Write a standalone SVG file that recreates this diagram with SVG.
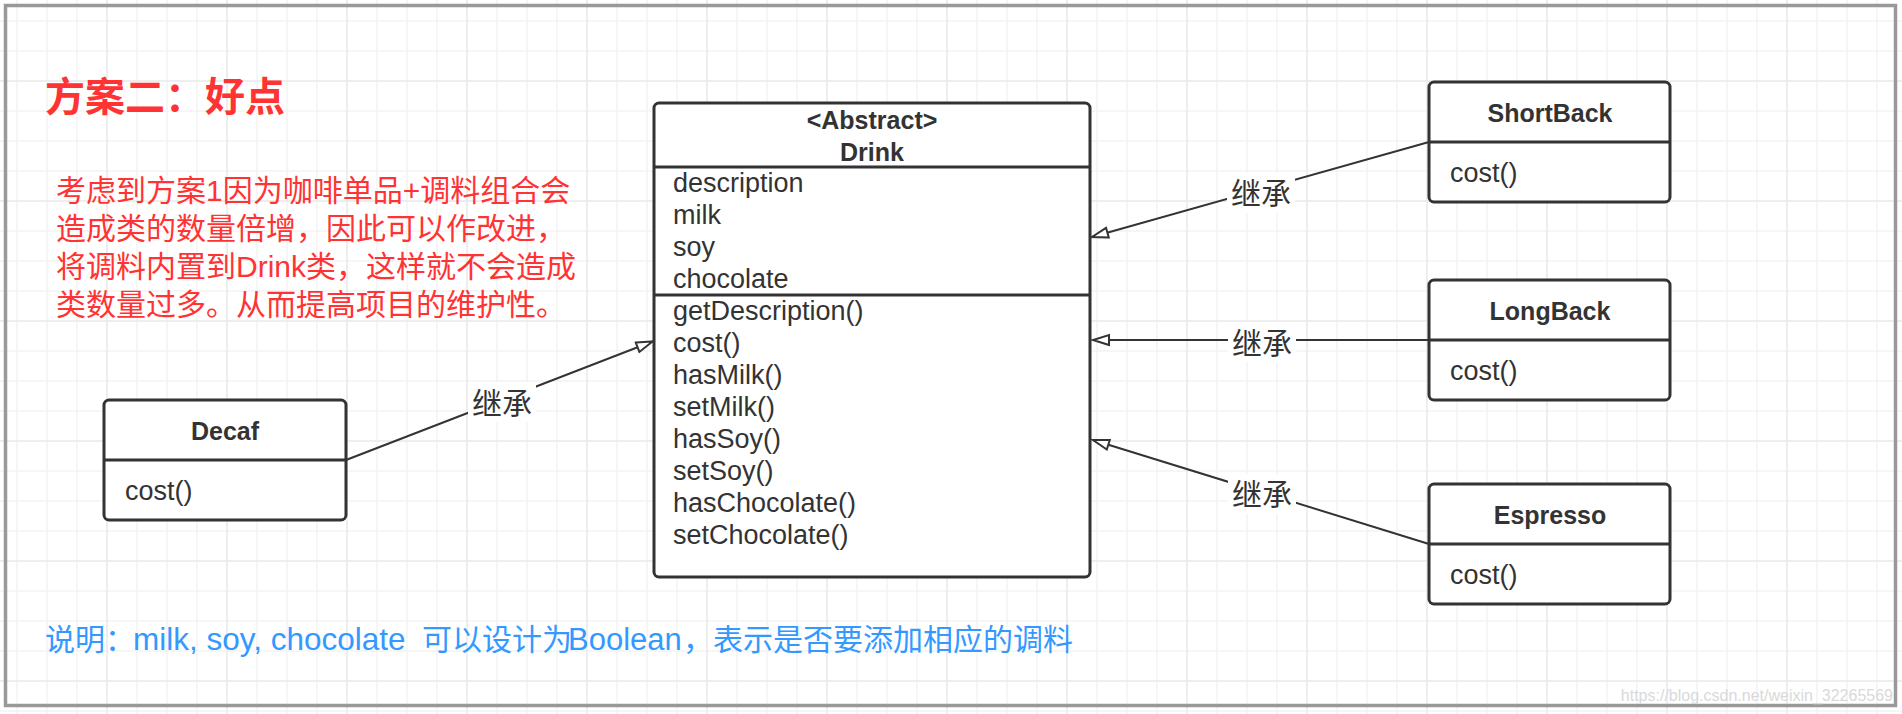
<svg xmlns="http://www.w3.org/2000/svg" width="1902" height="714" viewBox="0 0 1902 714">
<style>
.box{fill:#fff;stroke:#333;stroke-width:3}
.dv{stroke:#333;stroke-width:3}
.t{font-family:"Liberation Sans",Arial,"Noto Sans CJK SC",sans-serif;font-size:27px;fill:#333}
.h{font-weight:bold;font-size:25px;text-anchor:middle}
.edge{stroke:#333;stroke-width:2;fill:none;marker-end:url(#tri)}
.lblbg{fill:#fff}
.lbl{font-family:"Noto Sans CJK SC",sans-serif;font-size:30px;fill:#333;text-anchor:middle}
.red{font-family:"Liberation Sans","Noto Sans CJK SC",sans-serif;fill:#ff3333}
.blue{font-family:"Liberation Sans","Noto Sans CJK SC",sans-serif;fill:#3399ff;font-size:30px}
</style>
<defs>
<pattern id="gmin" x="2" y="6" width="30" height="30" patternUnits="userSpaceOnUse">
<path d="M15,0 V30 M0,15 H30" stroke="#f3f3f3" stroke-width="1.5" fill="none"/>
</pattern>
<pattern id="gmaj" x="47" y="21" width="120" height="120" patternUnits="userSpaceOnUse">
<path d="M60,0 V120 M0,60 H120" stroke="#ebebeb" stroke-width="1.5" fill="none"/>
</pattern>
<marker id="tri" markerUnits="userSpaceOnUse" markerWidth="20" markerHeight="14" refX="17" refY="6" orient="auto" overflow="visible">
<path d="M1,1 L17,6 L1,11 Z" fill="#fff" stroke="#333" stroke-width="2"/>
</marker>
</defs>
<rect width="1902" height="714" fill="#fff"/>
<rect width="1902" height="714" fill="url(#gmin)"/>
<rect width="1902" height="714" fill="url(#gmaj)"/>
<rect x="5.5" y="5.5" width="1890" height="700" fill="none" stroke="#999" stroke-width="3.5"/>

<g id="title">
<text class="red" x="45" y="111" font-size="40" font-weight="bold" font-family="Noto Sans CJK SC, sans-serif">方案二：好点</text>
</g>
<g id="description" class="red" font-size="30">
<text x="56" y="201">考虑到方案1因为咖啡单品+调料组合会</text>
<text x="56" y="239">造成类的数量倍增，因此可以作改进，</text>
<text x="56" y="277">将调料内置到Drink类，这样就不会造成</text>
<text x="56" y="315">类数量过多。从而提高项目的维护性。</text>
</g>
<g id="note">
<text class="blue" y="650"><tspan x="45">说明：</tspan><tspan x="133" font-size="31.5">milk, soy, chocolate</tspan><tspan x="422">可以设计为</tspan><tspan x="568" font-size="31">Boolean</tspan><tspan x="683">，表示是否要添加相应的调料</tspan></text>
</g>

<g id="connectors">
<path class="edge" d="M1429,142 L1092,237"/>
<path class="edge" d="M1429,340 L1093,340"/>
<path class="edge" d="M1429,544 L1093,440"/>
<path class="edge" d="M346,460 L652.5,341.5"/>
<rect class="lblbg" x="1227" y="173" width="68" height="40"/>
<text class="lbl" x="1261" y="204">继承</text>
<rect class="lblbg" x="1228" y="322" width="68" height="40"/>
<text class="lbl" x="1262" y="354">继承</text>
<rect class="lblbg" x="1228" y="474" width="68" height="40"/>
<text class="lbl" x="1262" y="505">继承</text>
<rect class="lblbg" x="468" y="382" width="68" height="40"/>
<text class="lbl" x="502" y="413.5">继承</text>
</g>

<g id="Drink">
<rect class="box" x="654" y="103" width="436" height="474" rx="5"/>
<line class="dv" x1="654" y1="167" x2="1090" y2="167"/>
<line class="dv" x1="654" y1="295" x2="1090" y2="295"/>
<text class="t h" x="872" y="129">&lt;Abstract&gt;</text>
<text class="t h" x="872" y="161">Drink</text>
<text class="t" x="673" y="192">description</text>
<text class="t" x="673" y="224">milk</text>
<text class="t" x="673" y="256">soy</text>
<text class="t" x="673" y="288">chocolate</text>
<text class="t" x="673" y="320">getDescription()</text>
<text class="t" x="673" y="352">cost()</text>
<text class="t" x="673" y="384">hasMilk()</text>
<text class="t" x="673" y="416">setMilk()</text>
<text class="t" x="673" y="448">hasSoy()</text>
<text class="t" x="673" y="480">setSoy()</text>
<text class="t" x="673" y="512">hasChocolate()</text>
<text class="t" x="673" y="544">setChocolate()</text>
</g>

<g id="ShortBack">
<rect class="box" x="1429" y="82" width="241" height="120" rx="5"/>
<line class="dv" x1="1429" y1="142" x2="1670" y2="142"/>
<text class="t h" x="1550" y="122">ShortBack</text>
<text class="t" x="1450" y="182">cost()</text>
</g>

<g id="LongBack">
<rect class="box" x="1429" y="280" width="241" height="120" rx="5"/>
<line class="dv" x1="1429" y1="340" x2="1670" y2="340"/>
<text class="t h" x="1550" y="320">LongBack</text>
<text class="t" x="1450" y="380">cost()</text>
</g>

<g id="Espresso">
<rect class="box" x="1429" y="484" width="241" height="120" rx="5"/>
<line class="dv" x1="1429" y1="544" x2="1670" y2="544"/>
<text class="t h" x="1550" y="524">Espresso</text>
<text class="t" x="1450" y="584">cost()</text>
</g>

<g id="Decaf">
<rect class="box" x="104" y="400" width="242" height="120" rx="5"/>
<line class="dv" x1="104" y1="460" x2="346" y2="460"/>
<text class="t h" x="225" y="440">Decaf</text>
<text class="t" x="125" y="500">cost()</text>
</g>

<g id="watermark">
<text x="1893" y="701" text-anchor="end" font-family="Liberation Sans, Arial, sans-serif" font-size="16" fill="#d9d9d9">https://blog.csdn.net/weixin_32265569</text>
</g>
</svg>
